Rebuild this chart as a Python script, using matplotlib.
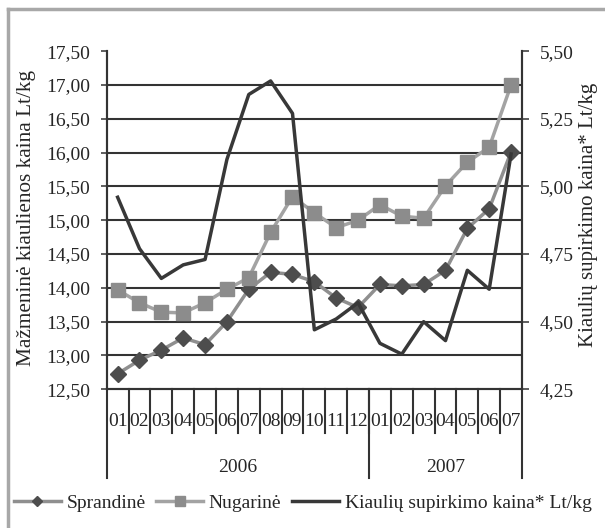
import matplotlib
matplotlib.use("Agg")
import matplotlib.pyplot as plt
from matplotlib.lines import Line2D

plt.rcParams['font.family'] = ['Liberation Serif', 'DejaVu Serif']

months = ["01", "02", "03", "04", "05", "06", "07", "08", "09", "10", "11", "12",
          "01", "02", "03", "04", "05", "06", "07"]
years = ["2006", "2007"]
year_counts = [12, 7]

sprandine = [12.73, 12.93, 13.08, 13.26, 13.16, 13.50, 13.98, 14.23, 14.20, 14.09,
             13.85, 13.71, 14.05, 14.03, 14.05, 14.26, 14.88, 15.17, 16.01]
nugarine = [13.97, 13.78, 13.64, 13.63, 13.78, 13.98, 14.15, 14.82, 15.35, 15.11,
            14.89, 15.00, 15.23, 15.06, 15.03, 15.51, 15.86, 16.08, 17.00]
supirkimo = [4.96, 4.77, 4.66, 4.71, 4.73, 5.10, 5.34, 5.39, 5.27, 4.47,
             4.51, 4.57, 4.42, 4.38, 4.50, 4.43, 4.69, 4.62, 5.12]

left_ticks = [12.5, 13.0, 13.5, 14.0, 14.5, 15.0, 15.5, 16.0, 16.5, 17.0, 17.5]
right_ticks = [4.25, 4.50, 4.75, 5.00, 5.25, 5.50]

W, H = 605, 528
fig = plt.figure(figsize=(W / 100, H / 100), dpi=100)
fig.patch.set_facecolor('white')

x0, x1, ytop, ybot = 106.7, 522.0, 51.2, 389.3
ax = fig.add_axes([x0 / W, 1 - ybot / H, (x1 - x0) / W, (ybot - ytop) / H])
ax2 = ax.twinx()

dark = '#333333'
txt = '#262626'
x = list(range(len(months)))

# grid lines
for v in left_ticks[1:-1]:
    ax.axhline(v, color=dark, lw=1.5, zorder=1)

ax.plot(x, sprandine, color='#8f8f8f', lw=2.5, marker='D', markersize=8,
        markerfacecolor='#4d4d4d', markeredgecolor='#4d4d4d', zorder=3, label='Sprandinė')
ax.plot(x, nugarine, color='#a3a3a3', lw=2.5, marker='s', markersize=10.5,
        markerfacecolor='#8c8c8c', markeredgecolor='#8c8c8c', zorder=3, label='Nugarinė')
ax2.plot(x, supirkimo, color='#383838', lw=2.5, zorder=2,
         label='Kiaulių supirkimo kaina* Lt/kg')

ax.set_xlim(-0.5, len(months) - 0.5)
ax.set_ylim(left_ticks[0], left_ticks[-1])
ax2.set_ylim(right_ticks[0], right_ticks[-1])

ax.set_yticks(left_ticks)
ax.set_yticklabels([f"{v:.2f}".replace('.', ',') for v in left_ticks])
ax2.set_yticks(right_ticks)
ax2.set_yticklabels([f"{v:.2f}".replace('.', ',') for v in right_ticks])
ax.set_xticks([])

for a in (ax, ax2):
    a.spines['top'].set_visible(False)
    for s in ('left', 'right', 'bottom'):
        a.spines[s].set_color(dark)
        a.spines[s].set_linewidth(1.5)
    a.patch.set_visible(False)

ax.tick_params(axis='y', direction='out', length=4, width=1.1, color=dark,
               labelsize=14, pad=8, labelcolor=txt)
ax2.tick_params(axis='y', direction='out', length=5, width=1.1, color=dark,
                labelsize=14, pad=8, labelcolor=txt)

# category separators and labels below the axis
trans = ax.get_xaxis_transform()
axh = ybot - ytop
y_month_end = -(433 - ybot) / axh
y_year_end = -(478 - ybot) / axh
y_month_lab = -(421 - ybot) / axh
y_year_lab = -(467 - ybot) / axh

for i in range(1, len(months)):
    ax.plot([i - 0.5, i - 0.5], [0, y_month_end], transform=trans, color=dark,
            lw=1.5, clip_on=False)
for i, m in enumerate(months):
    ax.text(i, y_month_lab, m, transform=trans, ha='center', va='center',
            fontsize=14, color=txt)

start = 0
bounds = [0]
for name, n in zip(years, year_counts):
    ax.text(start + n / 2 - 0.5, y_year_lab, name, transform=trans, ha='center',
            va='center', fontsize=14, color=txt)
    start += n
    bounds.append(start)
for b in bounds:
    ax.plot([b - 0.5, b - 0.5], [0, y_year_end], transform=trans, color=dark,
            lw=1.5, clip_on=False)

# axis titles
fig.text(27 / W, 1 - 218 / H, 'Mažmeninė kiaulienos kaina Lt/kg', rotation=90,
         ha='center', va='center', fontsize=15.3, color=txt)
fig.text(588 / W, 1 - 215 / H, 'Kiaulių supirkimo kaina* Lt/kg', rotation=90,
         ha='center', va='center', fontsize=15, color=txt)

# legend
h1, l1 = ax.get_legend_handles_labels()
h2, l2 = ax2.get_legend_handles_labels()
fig.legend(h1 + h2, l1 + l2, loc='center left', bbox_to_anchor=(14 / W, 1 - 503 / H),
           ncol=3, frameon=False, fontsize=14, handlelength=2.4, handletextpad=0.3,
           columnspacing=0.55, borderpad=0, borderaxespad=0, markerscale=0.7,
           labelcolor=txt)

# outer frame (left and top edges visible)
fig.add_artist(Line2D([8 / W, 8 / W], [0, 1 - 9 / H], transform=fig.transFigure,
                      color='#a8a8a8', lw=2.5))
fig.add_artist(Line2D([8 / W, 1], [1 - 9 / H, 1 - 9 / H], transform=fig.transFigure,
                      color='#a8a8a8', lw=2.5))

fig.savefig('out.png', dpi=100)
